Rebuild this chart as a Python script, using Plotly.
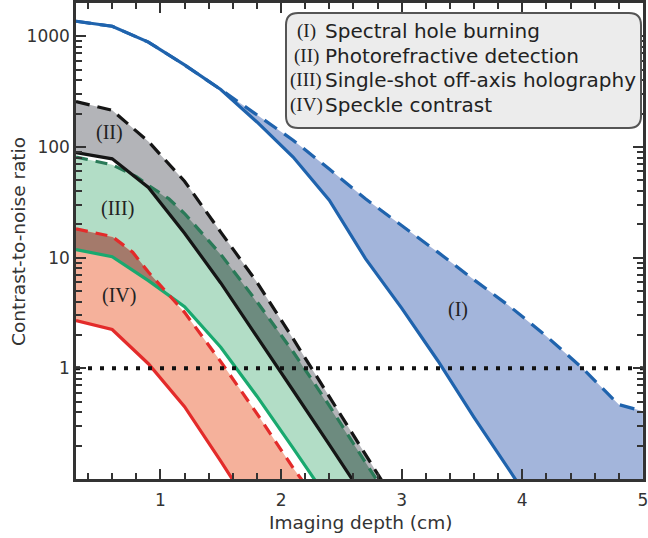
import numpy as np
import plotly.graph_objects as go

# ---------------- data ----------------
# (I) Spectral hole burning
x_I_lo = [0.3, 0.6, 0.9, 1.2, 1.5, 1.8, 2.1, 2.4, 2.7, 3.0, 3.3, 3.6, 3.9, 4.2, 5.0]
y_I_lo = [1365, 1230, 885, 550, 330, 168, 81, 33, 9.8, 3.5, 1.17, 0.36, 0.117, 0.037, 0.0018]
x_I_hi = [0.3, 0.6, 0.9, 1.2, 1.5, 1.8, 2.1, 2.4, 2.7, 3.0, 3.3, 3.6, 3.9, 4.2, 4.5, 4.8, 5.0]
y_I_hi = [1365, 1230, 885, 550, 330, 195, 115, 63, 34, 19.5, 11.2, 6.3, 3.6, 1.95, 1.0, 0.47, 0.41]

# (II) Photorefractive detection
x_II_lo = [0.3, 0.6, 0.9, 1.2, 1.5, 1.8, 2.1, 2.4, 2.7, 3.0]
y_II_lo = [89, 78, 43, 16.6, 5.9, 1.95, 0.63, 0.204, 0.066, 0.021]
x_II_hi = [0.3, 0.6, 0.9, 1.2, 1.5, 1.8, 2.1, 2.4, 2.7, 3.0]
y_II_hi = [257, 214, 112, 49, 17, 6.0, 1.85, 0.55, 0.166, 0.05]

# (III) Single-shot off-axis holography
x_III_lo = [0.3, 0.6, 0.9, 1.2, 1.5, 1.8, 2.1, 2.4, 2.7, 3.0]
y_III_lo = [11.8, 10.2, 6.2, 3.6, 1.55, 0.56, 0.19, 0.063, 0.021, 0.007]
x_III_hi = [0.3, 0.6, 0.8, 0.9, 1.07, 1.2, 1.5, 1.8, 2.1, 2.4, 2.7, 3.0]
y_III_hi = [81, 69, 54, 45, 34, 25, 10.7, 4.0, 1.41, 0.46, 0.141, 0.044]

# (IV) Speckle contrast
x_IV_lo = [0.3, 0.6, 0.9, 1.2, 1.5, 1.8]
y_IV_lo = [2.7, 2.24, 1.1, 0.45, 0.145, 0.045]
x_IV_hi = [0.3, 0.6, 0.77, 0.9, 1.2, 1.5, 1.8, 2.1, 2.4]
y_IV_hi = [18.2, 15.5, 11.2, 7.4, 3.2, 1.15, 0.39, 0.126, 0.045]

threshold = 1.0

legend_numerals = ["(I)", "(II)", "(III)", "(IV)"]
legend_texts = ["Spectral hole burning", "Photorefractive detection",
                "Single-shot off-axis holography", "Speckle contrast"]

x_ticks = [1, 2, 3, 4, 5]
y_ticks = [1, 10, 100, 1000]
y_ticktext = ["1", "10", "100", "1000"]

# ---------------- styles ----------------
BLUE = "#1f63ad"; BLUE_F = "#a3b5db"
BLACK = "#151515"; GRAY_F = "#b3b4b8"
GREEN = "#19a96f"; GREEN_D = "#2a7a58"; GREEN_F = "#b2ddc6"
DARK_F = "#6d8b7f"
RED = "#e32b2a"; SALMON_F = "#f5b19b"; BROWN_F = "#a47a6b"
AX = "#333333"
SANS = "DejaVu Sans, Verdana, sans-serif"
SERIF = "Liberation Serif, DejaVu Serif, serif"

fig = go.Figure()


def band(xlo, ylo, xhi, yhi, color):
    fig.add_trace(go.Scatter(x=xhi, y=yhi, mode="lines", line=dict(width=0),
                             hoverinfo="skip", showlegend=False))
    fig.add_trace(go.Scatter(x=xlo, y=ylo, mode="lines", line=dict(width=0),
                             fill="tonexty", fillcolor=color,
                             hoverinfo="skip", showlegend=False))


def logi(xg, xs, ys):
    return np.interp(xg, xs, np.log10(ys))


def overlap(xa_lo, ya_lo, xa_hi, ya_hi, xb_lo, yb_lo, xb_hi, yb_hi, color):
    xmax = min(max(xa_hi), max(xb_hi), max(xa_lo), max(xb_lo))
    xg = np.linspace(0.3, xmax, 1500)
    lo = np.maximum(logi(xg, xa_lo, ya_lo), logi(xg, xb_lo, yb_lo))
    hi = np.minimum(logi(xg, xa_hi, ya_hi), logi(xg, xb_hi, yb_hi))
    hi = np.maximum(hi, lo)
    band(xg, 10 ** lo, xg, 10 ** hi, color)


# fills
band(x_I_lo, y_I_lo, x_I_hi, y_I_hi, BLUE_F)
band(x_III_lo, y_III_lo, x_III_hi, y_III_hi, GREEN_F)
band(x_II_lo, y_II_lo, x_II_hi, y_II_hi, GRAY_F)
overlap(x_II_lo, y_II_lo, x_II_hi, y_II_hi, x_III_lo, y_III_lo, x_III_hi, y_III_hi, DARK_F)
band(x_IV_lo, y_IV_lo, x_IV_hi, y_IV_hi, SALMON_F)
overlap(x_III_lo, y_III_lo, x_III_hi, y_III_hi, x_IV_lo, y_IV_lo, x_IV_hi, y_IV_hi, BROWN_F)


def line(xs, ys, color, dash="solid", width=3.2):
    fig.add_trace(go.Scatter(x=xs, y=ys, mode="lines",
                             line=dict(color=color, width=width, dash=dash),
                             hoverinfo="skip", showlegend=False))


line(x_I_lo, y_I_lo, BLUE)
line(x_I_hi, y_I_hi, BLUE, "15px,9px")
line(x_III_lo, y_III_lo, GREEN)
line(x_III_hi, y_III_hi, GREEN_D, "12px,8px")
line(x_II_lo, y_II_lo, BLACK)
line(x_II_hi, y_II_hi, BLACK, "14px,8px")
line(x_IV_lo, y_IV_lo, RED)
line(x_IV_hi, y_IV_hi, RED, "12px,8px")

# threshold dotted line
fig.add_trace(go.Scatter(x=[0.3, 5.0], y=[threshold, threshold], mode="lines",
                         line=dict(color="#111111", width=4, dash="4px,8px"),
                         hoverinfo="skip", showlegend=False))

# invisible trace on the mirror axes (top / right minor ticks)
fig.add_trace(go.Scatter(x=[1], y=[1], xaxis="x2", yaxis="y2", mode="markers",
                         marker=dict(opacity=0), hoverinfo="skip", showlegend=False))

# region labels
for txt, xx, yy in [("(I)", 3.47, 3.4), ("(II)", 0.58, 134), ("(III)", 0.645, 28), ("(IV)", 0.66, 4.5)]:
    fig.add_annotation(x=xx, y=np.log10(yy), text=txt, showarrow=False,
                       font=dict(family=SERIF, size=20, color="#222222"))

# legend box (paper coords)
L, R, T, B = 76, 643, 3, 479


def px(v):
    return (v - L) / (R - L)


def py(v):
    return 1 - (v - T) / (B - T)


x0, x1 = px(286), px(641)
y0, y1 = py(128), py(13)
rx, ry = 12 / (R - L), 12 / (B - T)
path = (f"M {x0+rx},{y1} L {x1-rx},{y1} Q {x1},{y1} {x1},{y1-ry} "
        f"L {x1},{y0+ry} Q {x1},{y0} {x1-rx},{y0} L {x0+rx},{y0} "
        f"Q {x0},{y0} {x0},{y0+ry} L {x0},{y1-ry} Q {x0},{y1} {x0+rx},{y1} Z")
fig.add_shape(type="path", path=path, xref="paper", yref="paper",
              fillcolor="#ececec", line=dict(color="#555555", width=2))

for i, (num, txt) in enumerate(zip(legend_numerals, legend_texts)):
    yc = py(31 + i * 24.6)
    fig.add_annotation(x=px(306), y=yc, xref="paper", yref="paper", text=num,
                       showarrow=False, xanchor="center", yanchor="middle",
                       font=dict(family=SERIF, size=19, color="#222222"))
    fig.add_annotation(x=px(323), y=yc, xref="paper", yref="paper", text=txt,
                       showarrow=False, xanchor="left", yanchor="middle",
                       font=dict(family=SANS, size=20, color="#222222"))

# axis titles
fig.add_annotation(x=px(360), y=py(522), xref="paper", yref="paper", text="Imaging depth (cm)",
                   showarrow=False, xanchor="center", yanchor="middle",
                   font=dict(family=SANS, size=18.5, color="#333333"))
fig.add_annotation(x=px(18), y=py(242), xref="paper", yref="paper", text="Contrast-to-noise ratio",
                   showarrow=False, xanchor="center", yanchor="middle", textangle=-90,
                   font=dict(family=SANS, size=18.5, color="#333333"))

minor_y = [m * 10.0 ** d for d in range(-1, 4) for m in range(2, 10)]
common_x = dict(range=[0.3, 5.001], tickvals=x_ticks, ticks="inside", ticklen=10, tickwidth=2,
                tickcolor=AX, showgrid=False, zeroline=False,
                minor=dict(dtick=0.2, tick0=0, ticks="inside", ticklen=6, tickwidth=2,
                           tickcolor=AX, showgrid=False))
common_y = dict(type="log", range=[-1, 3.3], tickvals=y_ticks, ticktext=y_ticktext,
                ticks="inside", ticklen=10, tickwidth=2, tickcolor=AX,
                showgrid=False, zeroline=False,
                minor=dict(tickvals=minor_y, ticks="inside", ticklen=6, tickwidth=2,
                           tickcolor=AX, showgrid=False))

fig.update_layout(
    width=648, height=538,
    margin=dict(l=76, r=5, t=3, b=59, autoexpand=False),
    paper_bgcolor="white", plot_bgcolor="white",
    showlegend=False,
    xaxis=dict(**common_x, showline=True, linecolor=AX, linewidth=2.5, mirror=True,
               automargin=False, ticklabelstandoff=4, ticklabeloverflow="allow",
               tickfont=dict(family=SANS, size=17, color="#333333")),
    yaxis=dict(**common_y, showline=True, linecolor=AX, linewidth=2.5, mirror=True,
               automargin=False,
               tickfont=dict(family=SANS, size=17, color="#333333")),
    xaxis2=dict(**common_x, overlaying="x", side="top", showticklabels=False,
                showline=False, automargin=False),
    yaxis2=dict(**common_y, overlaying="y", side="right", showticklabels=False,
                showline=False, automargin=False),
)

fig.write_html("out.html", config={"displayModeBar": False},
               post_script="document.body.style.margin='0px';document.body.style.overflow='hidden';")
